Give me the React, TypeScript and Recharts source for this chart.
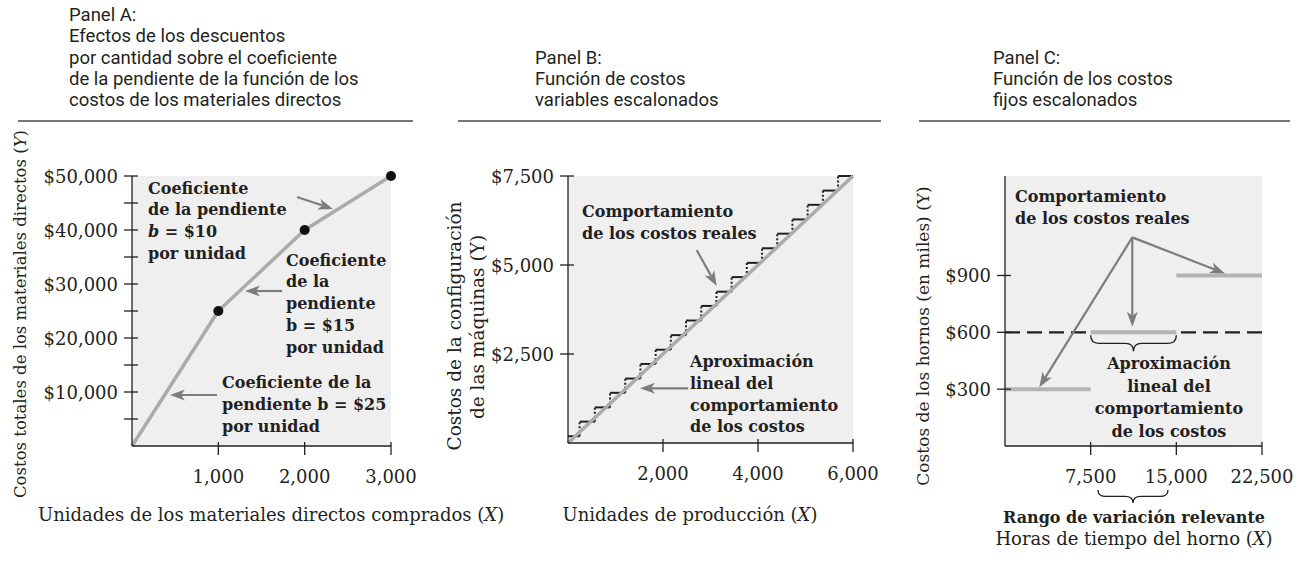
import React from 'react';
import { ComposedChart, Line, XAxis, YAxis, CartesianGrid, ReferenceLine } from 'recharts';

// ---------- Panel A data ----------
const aUnits = [0, 1000, 2000, 3000];
const aCost = [0, 25000, 40000, 50000];
const aXTicks = [1000, 2000, 3000];
const aYTicks = [5000, 10000, 15000, 20000, 25000, 30000, 35000, 40000, 45000, 50000];
const aArrowFrom = [[1911, 46110], [1738, 28700], [985, 9440]];
const aArrowTo = [[2328, 43890], [1309, 28700], [440, 9440]];

// ---------- Panel B data ----------
const bUnits = [0, 6000];
const bCost = [0, 7500];
const bRiserX = [245, 565, 885, 1205, 1525, 1845, 2165, 2485, 2805, 3125, 3445, 3765, 4085, 4405, 4725, 5045, 5365, 5685];
const bStepLevels = [190, 600, 1000, 1410, 1810, 2220, 2620, 3030, 3440, 3850, 4250, 4660, 5060, 5470, 5880, 6280, 6690, 7090, 7500];
const bXTicks = [2000, 4000, 6000];
const bYTicks = [2500, 5000, 7500];
const bArrowFrom = [[2709, 5421], [2533, 1537]];
const bArrowTo = [[3130, 4410], [1516, 1537]];

// ---------- Panel C data ----------
const cStepStart = [0, 7500, 15000];
const cStepEnd = [7500, 15000, 22500];
const cStepCost = [300, 600, 900];
const cApprox = 600;
const cXTicks = [7500, 15000, 22500];
const cYTicks = [300, 600, 900];
const cArrowFrom = [[11145, 1101], [11145, 1101], [11145, 1101]];
const cArrowTo = [[3003, 310], [11145, 630], [19261, 911]];
const cBraces = [[7500, 15000, 600], [8140, 14270, -232]];

const SERIF = '"DejaVu Serif", serif';
const SANS = 'Roboto, "Liberation Sans", sans-serif';
const BG = '#efeff0';
const GRAY = '#ababab';
const ARROW = '#7d7d7d';
const INK = '#231f20';

const fmtNum = (v: number) => v.toLocaleString('en-US');
const fmtUsd = (v: number) => '$' + v.toLocaleString('en-US');

const makeXTick = (fmt: (v: number) => string) => (p: any) => (
  <g key={`xt-${p.payload.value}`}>
    <line x1={p.x} y1={p.y - 4} x2={p.x} y2={p.y + 9} stroke={INK} strokeWidth={1.3} />
    <text x={p.x} y={p.y + 37} textAnchor="middle" fontFamily={SERIF} fontSize={18} fill={INK}>
      {fmt(p.payload.value)}
    </text>
  </g>
);

const makeYTick = (fmt: (v: number) => string, labeled: (v: number) => boolean) => (p: any) => (
  <g key={`yt-${p.payload.value}`}>
    <line x1={p.x - 8} y1={p.y} x2={p.x + 6} y2={p.y} stroke={INK} strokeWidth={1.3} />
    {labeled(p.payload.value) ? (
      <text x={p.x - 14} y={p.y + 6.5} textAnchor="end" fontFamily={SERIF} fontSize={18} fill={INK}>
        {fmt(p.payload.value)}
      </text>
    ) : null}
  </g>
);

const ArrowShape = (p: any) => {
  const { x1, y1, x2, y2 } = p;
  const dx = x2 - x1;
  const dy = y2 - y1;
  const len = Math.hypot(dx, dy) || 1;
  const ux = dx / len;
  const uy = dy / len;
  const L = 15;
  const W = 5.5;
  const notch = 4;
  const bx = x2 - ux * L;
  const by = y2 - uy * L;
  const nx = x2 - ux * (L - notch);
  const ny = y2 - uy * (L - notch);
  const px = -uy;
  const py = ux;
  const pts = `${x2},${y2} ${bx + px * W},${by + py * W} ${nx},${ny} ${bx - px * W},${by - py * W}`;
  return (
    <g>
      <line x1={x1} y1={y1} x2={nx} y2={ny} stroke={ARROW} strokeWidth={2.2} />
      <polygon points={pts} fill={ARROW} />
    </g>
  );
};

const makeBrace = (offset: number, depth: number) => (p: any) => {
  const xa = Math.min(p.x1, p.x2);
  const xb = Math.max(p.x1, p.x2);
  const cx = (xa + xb) / 2;
  const y0 = p.y1 + offset;
  const h = depth / 2;
  const r = 8;
  const d = `M${xa},${y0} Q${xa},${y0 + h} ${xa + r},${y0 + h} L${cx - r},${y0 + h} Q${cx},${y0 + h} ${cx},${y0 + depth} Q${cx},${y0 + h} ${cx + r},${y0 + h} L${xb - r},${y0 + h} Q${xb},${y0 + h} ${xb},${y0}`;
  return <path d={d} fill="none" stroke={INK} strokeWidth={1.3} />;
};

const arrows = (from: number[][], to: number[][], prefix: string) =>
  from.map((f, i) => (
    <ReferenceLine
      key={`${prefix}${i}`}
      segment={[{ x: f[0], y: f[1] }, { x: to[i][0], y: to[i][1] }]}
      ifOverflow="visible"
      shape={ArrowShape}
    />
  ));

const aData = aUnits.map((x, i) => ({ x, y: aCost[i] }));
const bData = bUnits.map((x, i) => ({ x, y: bCost[i] }));

const PanelA = () => (
  <ComposedChart width={440} height={562} margin={{ top: 176, right: 49, bottom: 76, left: 0 }}>
    <CartesianGrid fill={BG} fillOpacity={1} horizontal={false} vertical={false} stroke="none" />
    <XAxis type="number" dataKey="x" domain={[0, 3000]} ticks={aXTicks} interval={0} height={40}
      axisLine={{ stroke: INK, strokeWidth: 1.3 }} tickLine={false} tickSize={0} tickMargin={0}
      tick={makeXTick(fmtNum)} />
    <YAxis type="number" dataKey="y" domain={[0, 50000]} ticks={aYTicks} interval={0} width={132}
      axisLine={{ stroke: INK, strokeWidth: 1.3 }} tickLine={false} tickSize={0} tickMargin={0}
      tick={makeYTick(fmtUsd, (v) => v % 10000 === 0)} />
    <Line data={aData} dataKey="y" stroke={GRAY} strokeWidth={3.5} isAnimationActive={false}
      dot={(p: any) => p.payload.x > 0
        ? <circle key={`ad${p.index}`} cx={p.cx} cy={p.cy} r={5} fill="#111" />
        : <g key={`ad${p.index}`} />} />
    {arrows(aArrowFrom, aArrowTo, 'aa')}
  </ComposedChart>
);

const PanelB = () => (
  <ComposedChart width={440} height={562} margin={{ top: 176, right: 27, bottom: 79, left: 0 }}>
    <CartesianGrid fill={BG} fillOpacity={1} horizontal={false} vertical={false} stroke="none" />
    <XAxis type="number" dataKey="x" domain={[0, 6000]} ticks={bXTicks} interval={0} height={40}
      axisLine={{ stroke: INK, strokeWidth: 1.3 }} tickLine={false} tickSize={0} tickMargin={0}
      tick={makeXTick(fmtNum)} />
    <YAxis type="number" dataKey="y" domain={[0, 7500]} ticks={bYTicks} interval={0} width={128}
      axisLine={{ stroke: INK, strokeWidth: 1.3 }} tickLine={false} tickSize={0} tickMargin={0}
      tick={makeYTick(fmtUsd, () => true)} />
    {bStepLevels.map((lv, i) => (
      <Line key={`bh${i}`} data={[{ x: i === 0 ? 0 : bRiserX[i - 1], y: lv }, { x: i < bRiserX.length ? bRiserX[i] : 6000, y: lv }]}
        dataKey="y" stroke={INK} strokeWidth={2} dot={false} isAnimationActive={false} />
    ))}
    {bRiserX.map((rx, i) => (
      <Line key={`bv${i}`} data={[{ x: rx, y: bStepLevels[i] }, { x: rx, y: bStepLevels[i + 1] }]}
        dataKey="y" stroke={INK} strokeWidth={2} strokeDasharray="2 2" dot={false} isAnimationActive={false} />
    ))}
    <Line data={bData} dataKey="y" stroke={GRAY} strokeWidth={3.5} dot={false} isAnimationActive={false} />
    {arrows(bArrowFrom, bArrowTo, 'ba')}
  </ComposedChart>
);

const PanelC = () => (
  <ComposedChart width={421} height={562} margin={{ top: 176, right: 39, bottom: 76, left: 0 }}>
    <CartesianGrid fill={BG} fillOpacity={1} horizontal={false} vertical={false} stroke="none" />
    <XAxis type="number" dataKey="x" domain={[0, 22500]} ticks={cXTicks} interval={0} height={40}
      axisLine={{ stroke: INK, strokeWidth: 1.3 }} tickLine={false} tickSize={0} tickMargin={0}
      tick={makeXTick(fmtNum)} />
    <YAxis type="number" dataKey="y" domain={[0, 1425]} ticks={cYTicks} interval={0} width={125}
      axisLine={{ stroke: INK, strokeWidth: 1.3 }} tickLine={false} tickSize={0} tickMargin={0}
      tick={makeYTick(fmtUsd, () => true)} />
    <ReferenceLine y={cApprox} stroke={INK} strokeWidth={2.2} strokeDasharray="15 7" />
    {cStepCost.map((v, i) => (
      <Line key={`cs${i}`} data={[{ x: cStepStart[i], y: v }, { x: cStepEnd[i], y: v }]}
        dataKey="y" stroke="#b4b4b4" strokeWidth={4} dot={false} isAnimationActive={false} />
    ))}
    {cBraces.map((b, i) => (
      <ReferenceLine key={`cb${i}`} segment={[{ x: b[0], y: b[2] }, { x: b[1], y: b[2] }]}
        ifOverflow="visible" shape={i === 0 ? makeBrace(3, 16) : makeBrace(0, 13)} />
    ))}
    {arrows(cArrowFrom, cArrowTo, 'ca')}
  </ComposedChart>
);

type Line_ = string | React.ReactNode;
const Block = ({ x, y, lines, anchor = 'start', lh = 21.8 }: { x: number; y: number; lines: Line_[]; anchor?: string; lh?: number }) => (
  <text x={x} y={y} fontFamily={SERIF} fontWeight="bold" fontSize={16} fill={INK} textAnchor={anchor as any}>
    {lines.map((l, i) => (
      <tspan key={i} x={x} y={y + i * lh}>{l}</tspan>
    ))}
  </text>
);

const Title = ({ x, y, lines }: { x: number; y: number; lines: string[] }) => (
  <text x={x} y={y} fontFamily={SANS} fontSize={18.5} fill={INK}>
    {lines.map((l, i) => (
      <tspan key={i} x={x} y={y + i * 21.3}>{l}</tspan>
    ))}
  </text>
);

const Overlay = () => (
  <svg width={1301} height={562} style={{ position: 'absolute', left: 0, top: 0, pointerEvents: 'none' }}>
    <Title x={69} y={21} lines={['Panel A:', 'Efectos de los descuentos', 'por cantidad sobre el coeficiente', 'de la pendiente de la función de los', 'costos de los materiales directos']} />
    <Title x={535} y={63.6} lines={['Panel B:', 'Función de costos', 'variables escalonados']} />
    <Title x={993} y={63.6} lines={['Panel C:', 'Función de los costos', 'fijos escalonados']} />
    <line x1={18} y1={121} x2={413} y2={121} stroke="#777" strokeWidth={2} />
    <line x1={458} y1={121} x2={881} y2={121} stroke="#777" strokeWidth={2} />
    <line x1={919} y1={121} x2={1290} y2={121} stroke="#777" strokeWidth={2} />

    {/* axis titles */}
    <text transform="rotate(-90 20 314)" x={20} y={314} textAnchor="middle" dominantBaseline="central" fontFamily={SERIF} fontSize={16.5} fill={INK}>
      Costos totales de los materiales directos (<tspan fontStyle="italic">Y</tspan>)
    </text>
    <text x={38} y={521} fontFamily={SERIF} fontSize={18} fill={INK}>
      Unidades de los materiales directos comprados (<tspan fontStyle="italic">X</tspan>)
    </text>
    <text transform="rotate(-90 454 326)" x={454} y={326} textAnchor="middle" dominantBaseline="central" fontFamily={SERIF} fontSize={18.5} fill={INK}>
      Costos de la configuración
    </text>
    <text transform="rotate(-90 477 327)" x={477} y={327} textAnchor="middle" dominantBaseline="central" fontFamily={SERIF} fontSize={18.5} fill={INK}>
      de las máquinas (Y)
    </text>
    <text x={690} y={521} textAnchor="middle" fontFamily={SERIF} fontSize={18} fill={INK}>
      Unidades de producción (<tspan fontStyle="italic">X</tspan>)
    </text>
    <text transform="rotate(-90 923 336)" x={923} y={336} textAnchor="middle" dominantBaseline="central" fontFamily={SERIF} fontSize={17} fill={INK}>
      Costos de los hornos (en miles) (Y)
    </text>
    <text x={1134} y={523} textAnchor="middle" fontFamily={SERIF} fontWeight="bold" fontSize={16} fill={INK}>
      Rango de variación relevante
    </text>
    <text x={1134} y={545} textAnchor="middle" fontFamily={SERIF} fontSize={18} fill={INK}>
      Horas de tiempo del horno (<tspan fontStyle="italic">X</tspan>)
    </text>

    {/* annotations */}
    <Block x={148} y={193.5} lines={['Coeficiente', 'de la pendiente', <><tspan fontStyle="italic">b</tspan> = $10</>, 'por unidad']} />
    <Block x={286} y={265.5} lines={['Coeficiente', 'de la', 'pendiente', 'b = $15', 'por unidad']} />
    <Block x={222} y={388} lines={['Coeficiente de la', 'pendiente b = $25', 'por unidad']} />
    <Block x={582} y={217} lines={['Comportamiento', 'de los costos reales']} />
    <Block x={690} y={367} lines={['Aproximación', 'lineal del', 'comportamiento', 'de los costos']} />
    <Block x={1015} y={202} lines={['Comportamiento', 'de los costos reales']} />
    <Block x={1169} y={369} anchor="middle" lh={22.6} lines={['Aproximación', 'lineal del', 'comportamiento', 'de los costos']} />
  </svg>
);

export default function App() {
  return (
    <div style={{ position: 'absolute', left: 0, top: 0, width: 1301, height: 562, background: '#fff', overflow: 'hidden' }}>
      <div style={{ position: 'absolute', left: 0, top: 0 }}><PanelA /></div>
      <div style={{ position: 'absolute', left: 440, top: 0 }}><PanelB /></div>
      <div style={{ position: 'absolute', left: 880, top: 0 }}><PanelC /></div>
      <Overlay />
    </div>
  );
}
